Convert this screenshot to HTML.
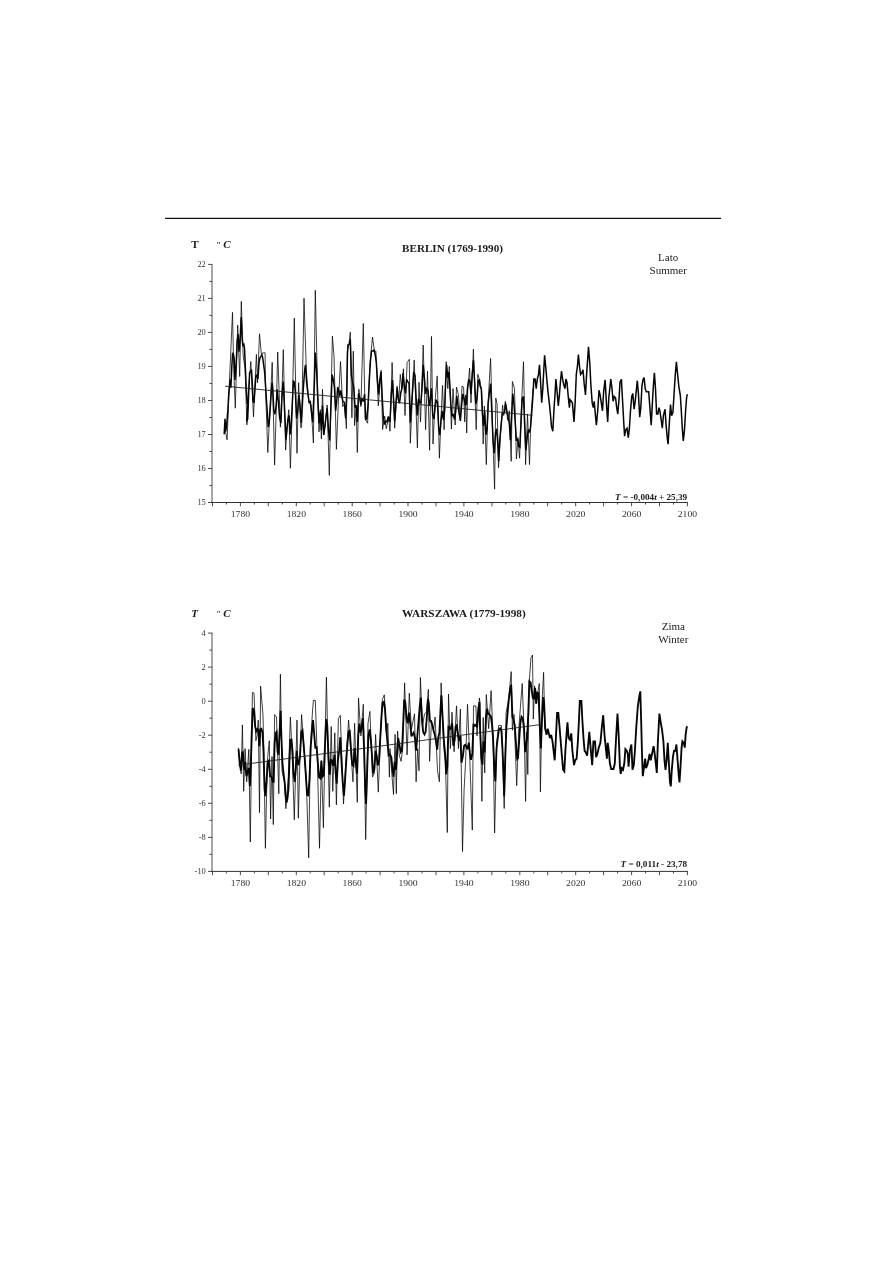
<!DOCTYPE html>
<html lang="pl"><head><meta charset="utf-8"><title>Berlin / Warszawa</title>
<style>
html,body{margin:0;padding:0;background:#fff;}
body{width:893px;height:1263px;overflow:hidden;font-family:"Liberation Serif",serif;}
svg{display:block;will-change:transform;filter:grayscale(1);}
text{font-family:"Liberation Serif",serif;fill:#1a1a1a;}
.tk{font-size:8.4px;fill:#333;}
.b{font-size:11px;font-weight:bold;}
.r{font-size:11px;fill:#222;}
.eq{font-size:8.8px;font-weight:bold;}
</style></head><body>
<svg width="893" height="1263" viewBox="0 0 893 1263">
<rect width="893" height="1263" fill="#fff"/>
<line x1="165" y1="218.4" x2="721" y2="218.4" stroke="#111" stroke-width="1.3"/>

<g id="berlin">
<line x1="212.0" y1="264.0" x2="212.0" y2="503.0" stroke="#777" stroke-width="1.3"/>
<line x1="211.4" y1="502.5" x2="687.9" y2="502.5" stroke="#333" stroke-width="1"/>
<path d="M208.0,264.4H212.0 M209.4,281.4H212.0 M208.0,298.4H212.0 M209.4,315.4H212.0 M208.0,332.4H212.0 M209.4,349.4H212.0 M208.0,366.4H212.0 M209.4,383.4H212.0 M208.0,400.5H212.0 M209.4,417.5H212.0 M208.0,434.5H212.0 M209.4,451.5H212.0 M208.0,468.5H212.0 M209.4,485.5H212.0 M208.0,502.5H212.0 M212.5,502.5v3.8 M226.4,502.5v2.0 M240.4,502.5v3.8 M254.4,502.5v2.0 M268.3,502.5v3.8 M282.3,502.5v2.0 M296.3,502.5v3.8 M310.2,502.5v2.0 M324.2,502.5v3.8 M338.2,502.5v2.0 M352.2,502.5v3.8 M366.1,502.5v2.0 M380.1,502.5v3.8 M394.1,502.5v2.0 M408.0,502.5v3.8 M422.0,502.5v2.0 M436.0,502.5v3.8 M450.0,502.5v2.0 M463.9,502.5v3.8 M477.9,502.5v2.0 M491.9,502.5v3.8 M505.8,502.5v2.0 M519.8,502.5v3.8 M533.8,502.5v2.0 M547.7,502.5v3.8 M561.7,502.5v2.0 M575.7,502.5v3.8 M589.6,502.5v2.0 M603.6,502.5v3.8 M617.6,502.5v2.0 M631.6,502.5v3.8 M645.5,502.5v2.0 M659.5,502.5v3.8 M673.5,502.5v2.0 M687.4,502.5v3.8" fill="none" stroke="#2a2a2a" stroke-width="0.85"/>
<text x="205.8" y="267.3" text-anchor="end" class="tk" textLength="8.4" lengthAdjust="spacingAndGlyphs">22</text>
<text x="205.8" y="301.3" text-anchor="end" class="tk" textLength="8.4" lengthAdjust="spacingAndGlyphs">21</text>
<text x="205.8" y="335.3" text-anchor="end" class="tk" textLength="8.4" lengthAdjust="spacingAndGlyphs">20</text>
<text x="205.8" y="369.3" text-anchor="end" class="tk" textLength="8.4" lengthAdjust="spacingAndGlyphs">19</text>
<text x="205.8" y="403.4" text-anchor="end" class="tk" textLength="8.4" lengthAdjust="spacingAndGlyphs">18</text>
<text x="205.8" y="437.4" text-anchor="end" class="tk" textLength="8.4" lengthAdjust="spacingAndGlyphs">17</text>
<text x="205.8" y="471.4" text-anchor="end" class="tk" textLength="8.4" lengthAdjust="spacingAndGlyphs">16</text>
<text x="205.8" y="505.4" text-anchor="end" class="tk" textLength="8.4" lengthAdjust="spacingAndGlyphs">15</text>
<text x="230.8" y="516.9" class="tk" textLength="19.3" lengthAdjust="spacingAndGlyphs">1780</text>
<text x="286.7" y="516.9" class="tk" textLength="19.3" lengthAdjust="spacingAndGlyphs">1820</text>
<text x="342.6" y="516.9" class="tk" textLength="19.3" lengthAdjust="spacingAndGlyphs">1860</text>
<text x="398.4" y="516.9" class="tk" textLength="19.3" lengthAdjust="spacingAndGlyphs">1900</text>
<text x="454.3" y="516.9" class="tk" textLength="19.3" lengthAdjust="spacingAndGlyphs">1940</text>
<text x="510.2" y="516.9" class="tk" textLength="19.3" lengthAdjust="spacingAndGlyphs">1980</text>
<text x="566.1" y="516.9" class="tk" textLength="19.3" lengthAdjust="spacingAndGlyphs">2020</text>
<text x="622.0" y="516.9" class="tk" textLength="19.3" lengthAdjust="spacingAndGlyphs">2060</text>
<text x="677.8" y="516.9" class="tk" textLength="19.3" lengthAdjust="spacingAndGlyphs">2100</text>
<text x="191.2" y="248.0" class="b" style="">T</text>
<text x="216.4" y="248.2" class="b" style="font-size:7.5px">"</text>
<text x="223.3" y="248.0" class="b" style="font-style:italic">C</text>
<text x="402.1" y="252.0" class="b" textLength="100.8" lengthAdjust="spacingAndGlyphs">BERLIN (1769-1990)</text>
<text x="668.2" y="261.0" text-anchor="middle" class="r">Lato</text>
<text x="668.2" y="273.8" text-anchor="middle" class="r">Summer</text>
<text x="615.1" y="499.8" class="eq" textLength="72.0" lengthAdjust="spacingAndGlyphs"><tspan font-style="italic">T</tspan> = -0,004<tspan font-style="italic">t</tspan> + 25,39</text>
<polyline points="224.6,427.2 227.1,439.8 229.0,390.8 232.5,312.4 233.7,368.6 235.3,408.2 237.7,325.1 239.7,376.5 241.3,301.4 243.2,355.9 245.1,368.6 246.9,424.8 248.8,387.6 250.8,361.5 253.5,416.9 255.1,381.3 256.4,354.4 257.5,382.8 259.5,333.8 261.4,354.4 263.0,352.8 265.1,352.8 265.4,384.4 267.8,452.5 270.1,406.6 272.2,362.3 274.6,465.1 276.5,400.3 277.7,352.0 280.4,427.2 282.0,390.8 283.3,349.6 285.6,450.1 287.5,422.4 288.8,409.7 290.4,468.3 292.3,406.6 294.3,318.0 297.0,453.3 298.6,382.8 300.8,427.9 301.6,427.2 304.0,298.2 306.3,370.2 308.7,401.8 311.1,405.0 313.4,443.0 315.3,290.3 317.4,381.3 319.0,431.9 320.3,409.7 321.4,439.0 322.5,389.2 323.7,435.1 325.3,422.4 327.2,405.0 329.3,475.4 332.4,336.2 334.0,355.9 336.4,449.3 338.4,401.8 340.5,361.5 342.7,406.6 344.6,403.4 346.4,428.7 347.5,344.9 349.1,343.3 350.3,332.2 351.9,417.7 353.3,351.2 354.6,425.6 356.2,406.6 357.3,452.5 358.9,389.2 360.9,406.6 363.3,323.5 365.2,419.2 367.6,423.2 369.6,368.6 372.5,337.0 374.4,351.2 375.9,351.2 378.3,405.8 381.2,370.2 382.6,429.5 384.7,416.1 386.2,428.7 388.6,417.7 390.0,431.3 392.1,362.5 394.7,428.2 397.1,386.2 398.7,401.3 400.3,374.4 401.9,388.6 403.4,368.8 405.0,415.5 407.1,362.5 409.3,359.3 410.3,443.2 412.2,401.3 414.2,360.1 416.1,410.8 417.4,447.9 419.0,382.3 420.5,421.8 421.6,394.9 423.2,345.1 425.6,429.7 427.5,371.2 429.6,450.3 431.5,336.4 433.0,444.0 435.1,401.3 437.2,375.9 439.4,458.2 440.9,420.3 442.5,385.4 444.1,429.7 446.2,361.7 447.8,388.6 449.3,366.5 451.4,429.0 453.0,388.6 455.2,425.0 456.5,387.0 458.4,394.9 460.4,420.3 462.0,386.2 463.6,387.0 464.7,421.8 465.6,394.9 466.7,432.9 467.8,388.6 469.6,368.0 471.0,402.8 473.4,349.1 476.2,429.7 477.8,374.4 479.4,379.1 480.0,382.3 481.6,390.2 483.2,444.0 484.4,406.0 486.3,464.6 488.2,401.3 490.6,358.5 492.3,420.3 494.6,489.1 495.8,398.1 497.1,404.4 498.5,467.7 500.6,432.9 502.6,405.2 503.7,415.5 505.3,401.3 507.7,420.3 509.3,410.8 511.2,461.4 512.4,381.5 514.5,388.6 516.4,459.0 518.0,439.2 519.6,458.2 521.5,404.4 523.5,361.7 525.6,464.6 527.5,413.9 529.5,464.6 530.9,417.1 533.0,388.6" fill="none" stroke="#000" stroke-width="0.75" stroke-linejoin="miter" stroke-miterlimit="10"/>
<polyline points="224.2,434.3 225.0,418.9 225.8,431.5 226.9,422.1 227.9,409.9 228.7,394.9 230.3,379.6 230.9,387.8 231.8,367.0 232.6,352.8 233.4,354.4 234.2,358.7 235.0,379.9 236.1,365.2 237.2,340.6 238.2,334.0 239.0,351.6 240.1,339.2 241.2,317.4 242.1,337.7 242.9,346.2 243.7,343.5 244.5,348.2 245.1,361.6 246.1,384.9 247.2,403.9 248.0,402.5 246.7,421.4 247.7,418.8 248.8,390.3 249.6,373.0 250.5,371.6 251.5,369.5 252.4,385.8 253.0,401.0 254.0,402.9 254.9,390.0 255.9,375.8 257.0,375.2 257.9,379.1 259.1,361.9 260.2,357.2 260.9,356.4 261.9,354.9 262.7,358.0 263.8,365.9 264.6,371.9 265.7,387.6 266.6,402.8 267.3,411.7 268.2,427.2 269.2,423.0 270.1,410.0 271.1,395.3 272.0,382.7 272.8,389.9 273.8,411.0 274.9,414.2 276.1,406.1 277.2,389.3 278.4,402.1 279.6,417.6 280.9,423.2 282.0,396.2 283.1,381.6 284.1,400.5 285.2,423.2 285.9,439.6 287.1,427.3 288.0,419.3 289.1,415.2 290.2,434.4 291.2,424.9 292.3,403.8 293.4,381.2 294.3,381.9 295.4,392.4 296.6,418.7 297.8,410.4 298.9,395.1 300.0,404.8 301.3,422.8 302.4,403.9 303.5,385.8 304.7,369.5 305.5,364.9 306.6,382.4 307.9,393.6 309.2,402.5 310.3,401.7 311.4,411.7 312.7,422.3 314.2,388.3 315.3,352.5 316.6,370.3 317.7,397.5 319.0,423.2 320.3,412.1 321.4,430.1 322.5,405.5 323.7,434.9 325.0,426.1 326.1,416.0 327.2,408.4 328.5,430.5 329.7,440.5 330.9,407.4 332.1,374.6 333.2,378.8 334.5,387.6 335.6,410.8 336.7,401.3 337.7,387.0 338.8,391.0 339.6,396.5 340.8,390.5 341.9,396.6 343.0,401.7 344.3,402.3 345.6,418.2 346.7,394.6 347.5,352.1 348.3,344.9 349.4,344.4 350.3,339.3 351.4,375.9 352.5,381.8 353.8,388.1 355.1,407.6 356.2,405.1 357.3,421.9 358.5,393.6 359.8,398.0 360.9,404.7 362.0,398.1 363.3,401.6 364.6,394.2 365.7,419.3 366.8,418.7 368.0,405.2 369.3,381.0 370.4,361.5 371.5,351.0 372.8,350.9 374.1,350.2 375.2,354.6 376.3,362.4 377.5,381.4 378.6,394.5 379.9,379.2 381.0,372.1 382.3,398.7 383.4,418.6 384.7,424.6 385.8,421.2 387.0,421.7 388.3,416.5 389.4,421.2 390.0,421.1 391.3,394.9 392.4,380.0 393.5,398.3 394.7,421.2 396.0,403.2 397.1,387.5 398.2,398.9 399.5,403.3 400.8,392.7 401.9,388.5 403.0,373.2 404.2,385.1 405.5,393.4 406.6,379.3 407.7,381.7 409.0,383.5 410.3,422.7 411.4,406.2 412.5,390.5 413.7,372.1 415.0,375.6 416.1,397.6 417.2,415.5 418.5,398.8 419.7,402.7 420.9,402.9 422.0,387.6 423.2,364.8 424.5,379.2 425.6,393.9 426.7,387.7 428.0,390.5 429.2,405.8 430.3,399.4 431.5,388.3 432.7,415.2 434.0,418.9 435.1,407.0 436.2,399.7 437.5,402.9 438.7,428.7 439.8,435.1 440.9,421.5 442.2,410.8 443.5,420.0 444.6,410.4 445.7,380.8 446.6,364.9 447.8,378.0 448.9,372.0 449.8,386.3 450.9,404.9 452.0,415.8 453.3,414.7 454.6,419.5 455.7,411.2 456.8,395.8 458.0,406.2 459.3,414.4 460.4,420.9 461.5,406.3 462.8,393.9 464.1,398.7 465.2,404.8 466.3,404.1 467.5,387.9 468.8,379.4 469.9,381.4 471.0,394.0 472.3,373.3 473.4,360.4 474.7,383.0 475.8,404.1 477.0,398.4 478.3,381.1 479.4,379.3 480.0,385.7 481.3,389.0 482.4,412.3 483.5,426.0 484.7,411.5 486.0,434.8 487.1,429.1 488.2,402.8 489.5,392.1 490.6,383.6 491.9,413.5 493.0,440.2 494.2,453.3 495.5,433.1 496.6,428.7 497.7,442.1 498.7,461.0 499.8,439.9 500.9,427.7 502.2,414.1 503.4,413.0 504.5,412.9 505.6,403.5 506.9,411.1 508.2,417.7 509.3,423.3 510.4,440.1 511.6,415.3 512.8,393.5 514.0,404.3 515.1,420.2 516.4,440.8 517.7,438.8 518.8,446.0 519.9,447.0 521.1,420.1 522.2,398.9 523.5,396.4 524.6,423.5 525.9,450.1 527.0,439.4 528.3,429.6 529.4,432.6 530.6,427.0 531.9,410.2 533.0,394.9 533.8,379.1 535.1,379.1 536.2,388.6 537.3,379.1 538.5,374.4 539.5,364.9 540.6,382.3 541.7,402.8 542.8,388.6 543.8,369.6 544.6,355.4 545.7,366.5 546.8,379.1 548.0,391.8 549.3,402.8 550.4,413.9 551.5,426.6 552.8,431.3 553.9,410.8 555.0,394.9 555.9,379.1 557.1,391.8 558.3,406.0 559.4,394.9 560.4,382.3 561.5,371.2 562.6,379.1 563.9,385.4 565.0,388.6 565.9,379.1 567.0,382.3 568.1,394.9 569.4,407.6 570.0,399.7 571.3,401.3 572.4,402.9 574.0,421.9 575.2,401.3 576.3,374.4 577.4,366.5 578.4,354.6 579.5,366.5 580.6,374.4 581.9,372.8 583.0,369.7 584.2,383.9 585.5,395.0 586.6,374.4 587.7,358.6 588.5,346.7 589.8,363.3 590.9,385.5 592.2,402.9 593.3,407.6 594.2,401.3 595.3,414.0 596.4,425.1 597.7,410.8 599.0,390.2 600.1,395.0 601.3,402.9 602.5,410.8 603.6,391.8 605.1,379.9 606.4,402.9 607.7,421.9 608.8,398.1 610.1,385.5 610.8,379.2 612.0,388.6 613.1,401.3 614.3,396.6 615.6,398.1 616.7,407.6 617.8,414.0 619.1,398.1 620.0,382.3 621.4,379.2 622.6,401.3 623.8,423.5 624.6,436.1 625.7,429.8 627.0,428.2 628.3,437.7 629.4,428.2 630.5,410.8 631.7,396.6 632.8,393.4 634.1,409.2 635.2,401.3 636.5,388.6 637.3,380.7 638.4,393.4 639.7,417.1 640.8,407.6 642.0,385.5 643.1,379.2 644.1,377.6 645.2,388.6 646.3,391.8 647.6,391.8 648.7,391.8 649.9,407.6 651.2,425.1 652.3,404.5 653.4,385.5 654.4,372.8 655.5,388.6 656.6,414.0 657.9,414.0 659.0,407.6 659.9,410.8 661.0,418.7 662.3,428.2 663.4,415.6 665.0,409.2 666.1,425.1 667.4,439.3 668.1,444.1 669.3,423.5 670.5,404.5 671.6,415.6 672.9,412.4 674.0,395.0 675.3,374.4 676.4,361.7 677.6,374.4 678.9,387.1 680.3,395.0 681.3,410.8 682.4,429.8 683.3,440.9 684.5,429.8 685.6,410.8 686.7,396.6 687.5,394.2" fill="none" stroke="#050505" stroke-width="1.5" stroke-linejoin="miter" stroke-miterlimit="3"/>
<line x1="225" y1="386.2" x2="532.5" y2="415.3" stroke="#222" stroke-width="0.9"/>
</g>
<g id="warszawa">
<line x1="212.0" y1="632.7" x2="212.0" y2="871.9" stroke="#777" stroke-width="1.3"/>
<line x1="211.4" y1="871.4" x2="687.9" y2="871.4" stroke="#333" stroke-width="1"/>
<path d="M208.0,633.1H212.0 M209.4,650.1H212.0 M208.0,667.1H212.0 M209.4,684.2H212.0 M208.0,701.2H212.0 M209.4,718.2H212.0 M208.0,735.2H212.0 M209.4,752.2H212.0 M208.0,769.3H212.0 M209.4,786.3H212.0 M208.0,803.3H212.0 M209.4,820.3H212.0 M208.0,837.4H212.0 M209.4,854.4H212.0 M208.0,871.4H212.0 M212.5,871.4v3.8 M226.4,871.4v2.0 M240.4,871.4v3.8 M254.4,871.4v2.0 M268.3,871.4v3.8 M282.3,871.4v2.0 M296.3,871.4v3.8 M310.2,871.4v2.0 M324.2,871.4v3.8 M338.2,871.4v2.0 M352.2,871.4v3.8 M366.1,871.4v2.0 M380.1,871.4v3.8 M394.1,871.4v2.0 M408.0,871.4v3.8 M422.0,871.4v2.0 M436.0,871.4v3.8 M450.0,871.4v2.0 M463.9,871.4v3.8 M477.9,871.4v2.0 M491.9,871.4v3.8 M505.8,871.4v2.0 M519.8,871.4v3.8 M533.8,871.4v2.0 M547.7,871.4v3.8 M561.7,871.4v2.0 M575.7,871.4v3.8 M589.6,871.4v2.0 M603.6,871.4v3.8 M617.6,871.4v2.0 M631.6,871.4v3.8 M645.5,871.4v2.0 M659.5,871.4v3.8 M673.5,871.4v2.0 M687.4,871.4v3.8" fill="none" stroke="#2a2a2a" stroke-width="0.85"/>
<text x="205.8" y="636.0" text-anchor="end" class="tk" textLength="4.2" lengthAdjust="spacingAndGlyphs">4</text>
<text x="205.8" y="670.0" text-anchor="end" class="tk" textLength="4.2" lengthAdjust="spacingAndGlyphs">2</text>
<text x="205.8" y="704.1" text-anchor="end" class="tk" textLength="4.2" lengthAdjust="spacingAndGlyphs">0</text>
<text x="205.8" y="738.1" text-anchor="end" class="tk" textLength="7.0" lengthAdjust="spacingAndGlyphs">-2</text>
<text x="205.8" y="772.2" text-anchor="end" class="tk" textLength="7.0" lengthAdjust="spacingAndGlyphs">-4</text>
<text x="205.8" y="806.2" text-anchor="end" class="tk" textLength="7.0" lengthAdjust="spacingAndGlyphs">-6</text>
<text x="205.8" y="840.3" text-anchor="end" class="tk" textLength="7.0" lengthAdjust="spacingAndGlyphs">-8</text>
<text x="205.8" y="874.3" text-anchor="end" class="tk" textLength="11.2" lengthAdjust="spacingAndGlyphs">-10</text>
<text x="230.8" y="885.8" class="tk" textLength="19.3" lengthAdjust="spacingAndGlyphs">1780</text>
<text x="286.7" y="885.8" class="tk" textLength="19.3" lengthAdjust="spacingAndGlyphs">1820</text>
<text x="342.6" y="885.8" class="tk" textLength="19.3" lengthAdjust="spacingAndGlyphs">1860</text>
<text x="398.4" y="885.8" class="tk" textLength="19.3" lengthAdjust="spacingAndGlyphs">1900</text>
<text x="454.3" y="885.8" class="tk" textLength="19.3" lengthAdjust="spacingAndGlyphs">1940</text>
<text x="510.2" y="885.8" class="tk" textLength="19.3" lengthAdjust="spacingAndGlyphs">1980</text>
<text x="566.1" y="885.8" class="tk" textLength="19.3" lengthAdjust="spacingAndGlyphs">2020</text>
<text x="622.0" y="885.8" class="tk" textLength="19.3" lengthAdjust="spacingAndGlyphs">2060</text>
<text x="677.8" y="885.8" class="tk" textLength="19.3" lengthAdjust="spacingAndGlyphs">2100</text>
<text x="191.2" y="616.7" class="b" style="font-style:italic">T</text>
<text x="216.4" y="616.9" class="b" style="font-size:7.5px">"</text>
<text x="223.3" y="616.7" class="b" style="font-style:italic">C</text>
<text x="402.1" y="617.0" class="b" textLength="123.6" lengthAdjust="spacingAndGlyphs">WARSZAWA (1779-1998)</text>
<text x="673.3" y="629.9" text-anchor="middle" class="r">Zima</text>
<text x="673.3" y="642.6" text-anchor="middle" class="r">Winter</text>
<text x="620.5" y="866.8" class="eq" textLength="66.6" lengthAdjust="spacingAndGlyphs"><tspan font-style="italic">T</tspan> = 0,011<tspan font-style="italic">t</tspan> - 23,78</text>
<polyline points="238.5,747.8 239.7,762.8 241.2,773.9 242.4,724.9 243.7,791.3 245.1,748.6 246.7,781.8 248.8,749.4 250.3,842.0 252.4,692.4 254.0,693.2 255.9,740.7 257.0,735.9 258.3,720.1 259.5,812.7 260.6,686.1 263.0,715.4 263.8,748.6 265.4,848.3 267.3,761.3 269.3,740.7 270.6,819.0 272.0,756.5 273.3,824.6 274.6,714.6 276.5,717.0 278.8,793.7 280.4,674.2 282.0,770.8 284.4,781.8 285.9,808.7 288.3,777.1 290.4,717.0 292.3,758.1 294.3,819.8 297.0,720.1 298.3,818.2 300.0,758.1 301.6,714.6 304.0,748.6 306.3,780.3 308.7,857.8 310.3,748.6 312.3,714.6 313.4,700.3 315.3,700.3 317.4,761.3 319.5,848.3 321.4,761.3 323.4,827.7 324.5,770.8 326.4,677.1 329.3,807.2 331.2,726.5 332.8,791.3 334.8,732.8 336.4,804.8 338.4,718.5 340.3,715.4 341.5,748.6 343.5,804.0 345.9,761.3 348.6,720.1 350.6,748.6 353.0,781.8 354.6,723.3 357.3,802.4 358.5,698.0 360.9,735.9 363.3,704.3 365.7,839.6 368.0,723.3 369.9,711.4 372.5,777.1 374.1,773.9 375.6,734.4 378.3,792.1 380.4,739.1 382.3,699.6 384.3,694.8 386.7,735.9 387.8,723.3 389.4,777.1 390.0,748.6 391.6,770.8 393.5,794.5 395.1,734.4 396.3,793.7 397.6,731.2 399.2,754.9 401.1,761.3 402.7,748.6 404.6,682.9 407.1,754.9 409.3,693.2 411.4,729.6 414.5,713.8 416.1,781.8 417.7,748.6 419.0,770.8 420.4,677.4 422.4,726.5 424.5,713.8 426.4,712.2 428.4,689.3 429.6,761.3 431.5,720.1 433.5,731.2 435.1,717.0 437.5,770.8 439.4,781.8 441.1,682.9 443.8,748.6 445.4,761.3 447.3,832.5 448.5,694.0 450.4,748.6 452.0,712.2 454.1,751.8 456.5,705.9 458.4,748.6 460.4,709.1 462.5,851.5 464.1,789.7 465.6,761.3 467.5,704.3 469.9,761.3 472.3,830.1 473.5,705.9 475.9,705.9 477.0,735.9 479.4,698.0 480.0,703.3 481.9,801.4 483.2,717.5 484.7,772.9 486.3,694.6 488.7,728.6 491.1,690.6 493.0,734.9 494.6,833.0 496.6,744.4 498.7,725.4 501.4,725.4 502.5,750.8 504.2,808.5 506.1,712.8 508.5,700.1 511.2,671.6 512.4,730.2 514.0,714.4 516.7,785.6 518.8,728.6 522.2,683.5 524.3,734.9 525.6,801.4 526.7,731.8 527.8,774.5 529.1,684.3 530.9,658.2 532.5,655.0 533.3,719.1 534.6,685.9 536.2,703.3 537.3,695.4 539.3,683.5 540.4,791.9 542.0,703.3 543.6,672.4 544.9,728.6" fill="none" stroke="#000" stroke-width="0.75" stroke-linejoin="miter" stroke-miterlimit="10"/>
<polyline points="238.5,749.1 239.7,763.2 240.9,770.7 242.0,753.2 242.9,752.3 244.0,769.7 245.1,761.9 246.4,776.2 247.7,771.9 248.8,767.9 249.9,786.2 250.8,765.0 251.6,737.2 252.7,708.0 254.0,710.2 255.1,726.2 256.2,731.2 257.2,729.2 258.3,729.8 259.4,746.1 260.3,729.1 261.4,728.7 262.5,732.5 263.5,751.1 264.6,789.5 265.4,796.1 266.5,781.6 267.8,761.5 268.9,760.5 270.1,776.3 271.4,776.7 272.5,780.9 273.6,782.6 274.6,743.9 275.7,733.0 276.5,731.9 277.6,751.6 278.5,754.8 279.6,731.7 280.6,710.7 281.5,740.0 282.5,763.3 283.6,774.5 284.7,782.4 285.6,795.0 286.6,802.6 287.5,798.0 288.5,788.6 289.4,762.6 290.4,739.7 291.5,739.5 292.6,752.1 293.5,773.2 294.7,781.8 295.8,768.9 296.7,750.9 297.8,763.6 298.6,764.3 300.0,756.3 301.3,731.8 302.4,730.3 303.5,743.0 304.7,758.3 306.0,777.6 307.1,794.8 308.2,795.3 309.5,779.0 310.8,745.7 311.9,732.2 313.0,720.2 314.2,734.2 315.3,747.5 316.6,747.2 317.7,760.7 319.0,777.2 320.3,778.3 321.4,760.5 322.5,776.7 323.7,775.4 324.8,750.3 326.1,719.3 327.2,724.5 328.5,757.3 329.7,774.8 330.9,759.8 332.0,760.4 333.2,765.8 334.5,754.8 335.6,771.8 336.7,783.7 338.0,759.3 339.2,750.8 340.3,737.3 341.5,761.8 342.7,782.1 344.0,795.7 345.1,779.8 346.2,762.3 347.5,742.3 348.7,731.3 349.8,730.8 350.9,747.8 352.2,764.7 353.5,765.9 354.6,748.1 355.7,762.1 357.0,773.6 358.2,736.3 359.3,723.5 360.4,732.5 361.7,727.8 362.8,718.0 364.1,749.1 365.2,788.8 366.1,803.9 367.2,769.4 368.4,735.9 369.6,729.4 370.9,740.6 372.0,755.2 373.1,773.4 374.4,769.2 375.6,750.8 376.7,755.7 377.8,765.5 379.1,759.4 380.2,739.0 381.5,716.1 382.6,702.5 383.9,701.8 385.0,709.0 386.2,728.8 387.3,740.7 388.6,755.4 389.9,754.5 391.3,756.7 392.4,768.8 393.5,776.8 394.7,761.8 396.0,769.8 397.1,751.3 398.2,738.1 399.5,745.5 400.8,752.2 401.9,750.7 403.0,728.8 404.2,699.7 405.3,702.2 406.6,718.0 407.7,723.4 409.0,712.5 410.3,723.8 411.4,736.3 412.5,734.6 413.7,732.6 415.0,738.2 416.1,750.7 417.2,737.6 418.5,722.2 419.7,707.0 420.9,697.6 422.0,719.7 423.2,732.3 424.5,734.5 425.6,731.8 426.7,719.2 428.0,699.0 428.8,703.6 429.9,720.8 431.1,721.8 432.4,724.9 433.5,730.3 434.6,733.9 435.9,740.9 437.2,749.7 438.3,737.0 439.4,733.0 440.6,708.1 441.4,695.4 442.5,715.5 443.8,739.3 445.1,753.7 446.2,774.3 447.3,766.2 448.5,725.8 449.8,729.2 450.9,728.5 452.0,723.1 453.3,745.8 454.6,740.2 455.7,726.3 456.8,725.2 458.0,735.0 459.3,741.1 460.4,736.0 461.5,762.6 462.8,756.5 464.1,745.8 465.2,744.8 466.3,746.5 467.5,749.3 468.8,742.8 469.9,752.9 471.0,759.8 472.3,753.9 473.5,723.9 474.7,725.7 475.8,724.9 477.0,727.2 478.3,709.1 479.4,702.1 480.0,727.7 481.3,757.6 482.4,764.6 483.5,741.6 484.7,752.5 486.0,717.1 487.1,708.8 488.2,713.8 489.5,714.5 490.8,716.4 491.9,723.4 493.0,737.3 494.2,764.7 495.3,781.4 496.6,748.0 497.7,738.2 499.0,729.2 500.3,728.2 501.4,730.8 502.5,749.5 503.4,771.6 504.2,796.1 505.3,757.4 506.4,727.0 507.7,711.7 508.8,699.7 510.1,689.7 511.2,684.6 512.4,716.7 513.5,719.8 514.8,725.2 516.1,745.7 517.2,759.1 518.0,758.2 519.2,740.1 520.3,723.3 521.5,716.6 522.7,718.1 524.0,727.8 525.1,752.1 526.2,745.4 527.2,737.5 528.3,712.7 529.4,681.3 530.6,682.5 531.6,689.8 532.7,697.2 533.8,699.4 535.1,688.1 536.2,703.7 537.3,692.6 538.5,693.2 539.8,726.5 540.9,748.4 542.0,719.7 543.3,697.1 544.1,702.3 545.2,728.6 546.5,734.9 547.7,728.6 548.8,733.4 549.9,738.1 551.2,734.9 552.5,741.3 553.6,750.8 554.7,760.3 555.9,738.1 557.1,712.8 558.3,712.8 559.4,725.4 560.7,741.3 562.0,757.1 563.1,769.7 564.3,771.3 565.4,750.8 566.7,731.8 567.5,722.3 568.6,738.1 569.9,739.7 571.3,733.4 572.4,750.8 574.0,765.1 575.2,760.3 576.6,758.7 577.9,741.3 579.0,719.2 579.8,700.9 581.4,700.9 582.3,719.2 583.5,738.1 584.6,750.8 585.8,752.4 587.1,755.6 588.2,744.5 589.3,731.8 590.6,747.6 592.2,765.1 593.4,741.3 595.0,741.3 596.1,757.1 597.4,754.0 598.8,747.6 600.4,742.9 601.7,728.6 603.2,715.2 604.5,735.0 606.1,750.8 606.9,758.7 607.7,742.9 608.8,750.8 609.9,763.5 611.2,769.0 612.4,769.0 613.5,769.0 614.8,763.5 615.9,741.3 617.5,713.6 618.8,738.1 619.9,766.6 620.7,773.8 621.9,768.2 623.0,769.8 624.3,763.5 625.4,749.2 626.7,750.8 627.8,754.0 628.6,766.6 629.8,750.8 631.4,744.5 632.5,769.8 633.8,765.1 634.9,750.8 636.2,728.6 637.8,706.5 639.2,697.0 640.3,691.4 641.2,722.3 642.0,754.0 642.8,776.1 644.1,766.6 645.2,758.7 646.0,768.2 647.3,765.1 648.4,760.3 649.6,754.0 650.7,760.3 652.0,754.0 653.6,746.1 654.7,754.0 656.0,765.1 656.8,773.0 657.9,741.3 659.4,713.6 660.7,722.3 662.1,730.2 663.4,741.3 664.5,760.3 665.5,769.8 666.6,760.3 667.8,742.9 668.9,763.5 670.0,782.5 670.8,786.4 671.8,769.8 672.9,757.1 674.0,750.8 675.3,750.8 676.4,744.5 677.6,760.3 678.8,776.1 679.5,782.5 680.5,766.6 681.6,747.6 682.4,741.3 683.7,742.9 684.8,747.6 685.6,735.0 686.7,727.1 687.5,726.3" fill="none" stroke="#050505" stroke-width="1.85" stroke-linejoin="miter" stroke-miterlimit="3"/>
<line x1="238.2" y1="765.2" x2="542.5" y2="724.3" stroke="#222" stroke-width="0.9"/>
</g>
</svg>
</body></html>
